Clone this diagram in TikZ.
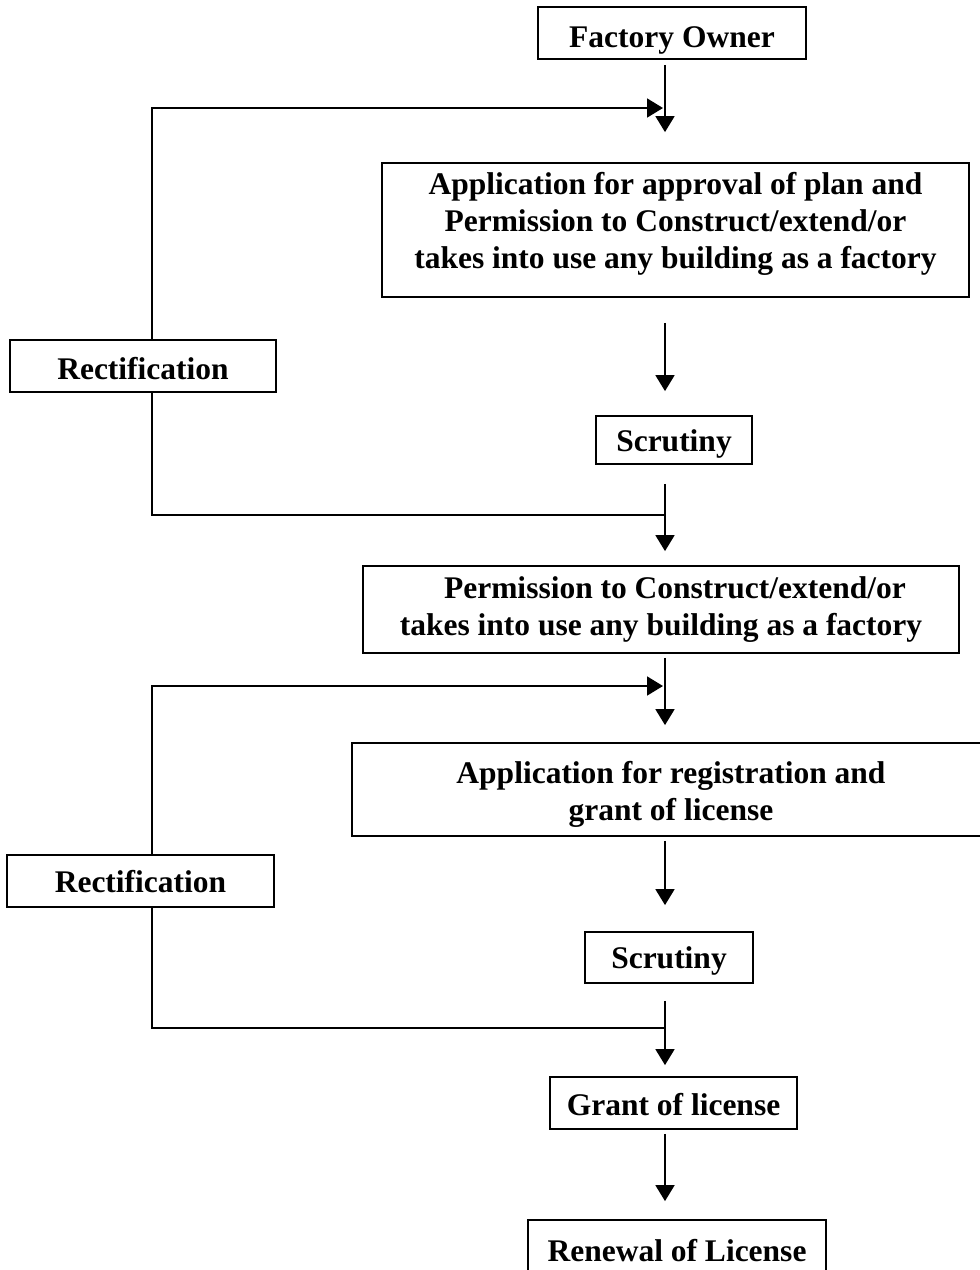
\documentclass[tikz,border=0pt]{standalone}
\usepackage{fontspec}
\setmainfont{Liberation Serif}
\usetikzlibrary{arrows.meta}
\newcommand\shiftbox[2]{\raisebox{#1}[\height][\depth]{\begin{tabular}{@{}c@{}}#2\end{tabular}}}
\tikzset{
  box/.style={draw, line width=1.8pt, inner sep=0pt, align=center,
    font=\bfseries\fontsize{31.5}{37}\selectfont},
  conn/.style={line width=1.8pt},
  arr/.style={conn, -{Triangle[length=16pt,width=19pt]}}
}
\begin{document}
\begin{tikzpicture}[x=1pt,y=-1pt]
\useasboundingbox (0,0) rectangle (980,1270);
\clip (0,0) rectangle (980,1270);
\coordinate (col) at (665,0);
\coordinate (lcol) at (152,0);
% boxes
\node[box, minimum width=268, minimum height=52] (fo) at (672,33) {\shiftbox{-7pt}{Factory Owner}};
\node[box, minimum width=587, minimum height=134] (app1) at (675.5,230)
  {\shiftbox{6pt}{Application for approval of plan and\\Permission to Construct/extend/or\\takes into use any building as a factory}};
\node[box, minimum width=266, minimum height=52] (rect1) at (143,366) {\shiftbox{-6pt}{Rectification}};
\node[box, minimum width=156, minimum height=48] (scr1) at (674,440) {\shiftbox{-4pt}{Scrutiny}};
\node[box, minimum width=596, minimum height=87] (perm) at (661,609.5)
  {\shiftbox{0pt}{\hspace*{28pt}Permission to Construct/extend/or\\ takes into use any building as a factory}};
\node[box, minimum width=638, minimum height=93] (appreg) at (671,789.5)
  {\shiftbox{-5pt}{Application for registration and\\grant of license}};
\node[box, minimum width=267, minimum height=52] (rect2) at (140.5,881) {\shiftbox{-4pt}{Rectification}};
\node[box, minimum width=168, minimum height=51] (scr2) at (669,957.5) {\shiftbox{-4pt}{Scrutiny}};
\node[box, minimum width=247, minimum height=52] (grant) at (673.5,1103) {\shiftbox{-5pt}{Grant of license}};
\node[box, minimum width=298, minimum height=70] (renew) at (677,1255) {\shiftbox{1pt}{Renewal of License}};
% junction points
\coordinate (in1) at (663,108);
\coordinate (out1) at (665,515);
\coordinate (in2) at (663,686);
\coordinate (out2) at (665,1028);
% main arrows
\draw[arr, shorten <=5pt, shorten >=30pt] (fo.south -| col) -- (app1.north -| col);
\draw[arr, shorten <=25pt, shorten >=24pt] (app1.south -| col) -- (scr1.north -| col);
\draw[arr, shorten <=19pt, shorten >=14pt] (scr1.south -| col) -- (perm.north -| col);
\draw[arr, shorten <=4pt, shorten >=17pt] (perm.south -| col) -- (appreg.north -| col);
\draw[arr, shorten <=4pt, shorten >=26pt] (appreg.south -| col) -- (scr2.north -| col);
\draw[arr, shorten <=17pt, shorten >=11pt] (scr2.south -| col) -- (grant.north -| col);
\draw[arr, shorten <=4pt, shorten >=18pt] (grant.south -| col) -- (renew.north -| col);
% feedback loops
\draw[arr] (rect1.north -| lcol) |- (in1);
\draw[conn] (rect1.south -| lcol) |- (out1);
\draw[arr] (rect2.north -| lcol) |- (in2);
\draw[conn] (rect2.south -| lcol) |- (out2);
\end{tikzpicture}
\end{document}
